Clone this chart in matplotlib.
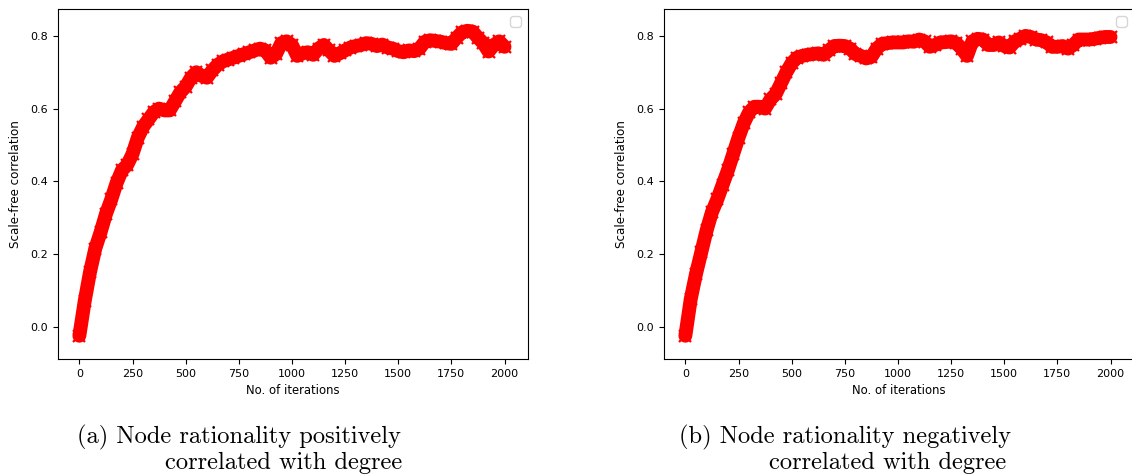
import numpy as np
import matplotlib
matplotlib.use("Agg")
import matplotlib.pyplot as plt

# iterations at which values were read (every 25 iterations)
iterations = list(range(0, 2001, 25))

# (a) node rationality positively correlated with degree
corr_positive = [
    -0.025, 0.07, 0.15, 0.215, 0.26, 0.31, 0.35, 0.395, 0.43, 0.445,
    0.475, 0.52, 0.55, 0.57, 0.59, 0.60, 0.595, 0.595, 0.62, 0.645,
    0.66, 0.685, 0.70, 0.69, 0.685, 0.705, 0.72, 0.73, 0.735, 0.74,
    0.745, 0.75, 0.755, 0.76, 0.765, 0.76, 0.74, 0.75, 0.78, 0.785,
    0.775, 0.745, 0.752, 0.755, 0.748, 0.765, 0.775, 0.76, 0.745, 0.752,
    0.76, 0.768, 0.772, 0.775, 0.78, 0.778, 0.772, 0.776, 0.768, 0.765,
    0.758, 0.755, 0.76, 0.758, 0.765, 0.784, 0.788, 0.786, 0.784, 0.78,
    0.778, 0.795, 0.81, 0.814, 0.812, 0.795, 0.78, 0.757, 0.775, 0.785,
    0.77,
]

# (b) node rationality negatively correlated with degree
corr_negative = [
    -0.025, 0.075, 0.145, 0.205, 0.265, 0.315, 0.35, 0.39, 0.43, 0.475,
    0.52, 0.56, 0.59, 0.605, 0.605, 0.60, 0.625, 0.64, 0.67, 0.70,
    0.725, 0.74, 0.745, 0.748, 0.75, 0.752, 0.748, 0.76, 0.772, 0.773,
    0.772, 0.765, 0.75, 0.745, 0.738, 0.742, 0.765, 0.778, 0.78, 0.782,
    0.782, 0.782, 0.785, 0.784, 0.79, 0.785, 0.77, 0.775, 0.782, 0.783,
    0.785, 0.78, 0.765, 0.745, 0.785, 0.792, 0.79, 0.775, 0.775, 0.782,
    0.772, 0.768, 0.785, 0.792, 0.80, 0.797, 0.79, 0.788, 0.782, 0.77,
    0.77, 0.772, 0.765, 0.775, 0.79, 0.79, 0.79, 0.792, 0.795, 0.797,
    0.797,
]

x_ticks = [0, 250, 500, 750, 1000, 1250, 1500, 1750, 2000]
y_ticks = [0.0, 0.2, 0.4, 0.6, 0.8]
x_label = "No. of iterations"
y_label = "Scale-free correlation"
captions = [
    ("(a) Node rationality positively", "correlated with degree"),
    ("(b) Node rationality negatively", "correlated with degree"),
]

W, H = 1132, 476
fig = plt.figure(figsize=(W / 100, H / 100), dpi=100)

axes_px = [(58, 470), (664, 470)]
series = [corr_positive, corr_negative]
caption_x = [(77, 165), (679, 769)]

for (left, width), vals, cap, cx in zip(axes_px, series, captions, caption_x):
    ax = fig.add_axes([left / W, (H - 359) / H, width / W, 350 / H])
    ax.plot(iterations, vals, color="red", lw=10, solid_capstyle="round",
            solid_joinstyle="round")
    ax.plot(iterations, vals, color="red", lw=0, marker="x", ms=9, mew=1.6)
    ax.set_xlim(-100.5, 2110.5)
    ax.set_ylim(-0.089, 0.874)
    ax.set_xticks(x_ticks)
    ax.set_yticks(y_ticks)
    ax.tick_params(labelsize=8, length=3.5, width=0.8)
    ax.set_xlabel(x_label, fontsize=8.4, labelpad=4)
    ax.set_ylabel(y_label, fontsize=8.6, labelpad=6)
    leg = ax.legend(handles=[], loc="upper right")
    fig.text(cx[0] / W, 1 - 437 / H, cap[0], family="cmr10", fontsize=17.6,
             ha="left", va="center")
    fig.text(cx[1] / W, 1 - 463 / H, cap[1], family="cmr10", fontsize=17.6,
             ha="left", va="center")

fig.savefig("out.png", dpi=100)
